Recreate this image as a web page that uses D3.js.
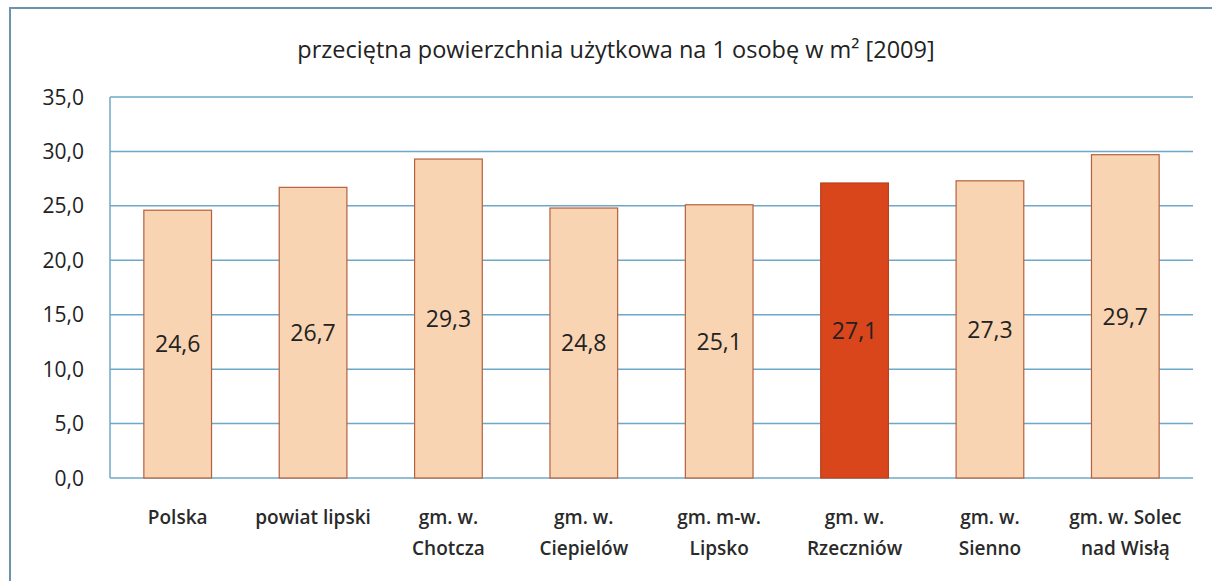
<!DOCTYPE html>
<html>
<head>
<meta charset="utf-8">
<script src="https://cdn.jsdelivr.net/npm/d3@7"></script>
<style>
  body { margin: 0; background: #fff; }
  svg { display: block; font-family: "Open Sans", sans-serif; }
</style>
</head>
<body>
<svg width="1212" height="581"></svg>
<script>
const categories = [
    ["Polska"],
    ["powiat lipski"],
    ["gm. w.", "Chotcza"],
    ["gm. w.", "Ciepielów"],
    ["gm. m-w.", "Lipsko"],
    ["gm. w.", "Rzeczniów"],
    ["gm. w.", "Sienno"],
    ["gm. w. Solec", "nad Wisłą"]
];
const values = [24.6, 26.7, 29.3, 24.8, 25.1, 27.1, 27.3, 29.7];
const highlighted = [false, false, false, false, false, true, false, false];
const yTicks = [0, 5, 10, 15, 20, 25, 30, 35];
const title = "przeciętna powierzchnia użytkowa na 1 osobę w m² [2009]";

const svg = d3.select("svg");
const margin = { left: 110, right: 19, top: 97, bottom: 103 };
const width = 1212, height = 581;
const fmt = v => d3.format(".1f")(v).replace(".", ",");

// outer frame
svg.append("rect")
    .attr("x", 10).attr("y", 8)
    .attr("width", 1240).attr("height", 620)
    .attr("fill", "none")
    .attr("stroke", "#6b93ad")
    .attr("stroke-width", 2);

const x = d3.scaleBand()
    .domain(d3.range(categories.length))
    .range([margin.left, width - margin.right])
    .paddingInner(0.5)
    .paddingOuter(0.25);

const y = d3.scaleLinear()
    .domain([0, 35])
    .range([height - margin.bottom, margin.top]);

// gridlines
svg.append("g")
    .selectAll("line")
    .data(yTicks)
    .enter()
    .append("line")
    .attr("x1", margin.left)
    .attr("x2", width - margin.right)
    .attr("y1", d => y(d))
    .attr("y2", d => y(d))
    .attr("stroke", "#6ea8c8")
    .attr("stroke-width", 1.5);

svg.append("line")
    .attr("x1", margin.left).attr("x2", margin.left)
    .attr("y1", y(35)).attr("y2", y(0))
    .attr("stroke", "#6ea8c8")
    .attr("stroke-width", 1.5);

// y tick labels
svg.append("g")
    .selectAll("text")
    .data(yTicks)
    .enter()
    .append("text")
    .attr("x", 84)
    .attr("y", d => y(d))
    .attr("dy", "0.36em")
    .attr("text-anchor", "end")
    .attr("font-size", 21)
    .attr("fill", "#222")
    .text(d => fmt(d));

// bars
svg.append("g")
    .selectAll("rect")
    .data(values)
    .enter()
    .append("rect")
    .attr("x", (d, i) => x(i))
    .attr("y", d => y(d))
    .attr("width", x.bandwidth())
    .attr("height", d => y(0) - y(d))
    .attr("fill", (d, i) => highlighted[i] ? "#d9461c" : "#f9d4b2")
    .attr("stroke", (d, i) => highlighted[i] ? "#b8401c" : "#b5603c")
    .attr("stroke-width", 1.2);

// value labels
svg.append("g")
    .selectAll("text")
    .data(values)
    .enter()
    .append("text")
    .attr("x", (d, i) => x(i) + x.bandwidth() / 2)
    .attr("y", d => (y(d) + y(0)) / 2)
    .attr("dy", "0.36em")
    .attr("text-anchor", "middle")
    .attr("font-size", 23)
    .attr("fill", "#222")
    .text(d => fmt(d));

// category labels
const cat = svg.append("g")
    .selectAll("text")
    .data(categories)
    .enter()
    .append("text")
    .attr("text-anchor", "middle")
    .attr("font-size", 19)
    .attr("font-weight", 600)
    .attr("fill", "#2a2a2a");

cat.selectAll("tspan")
    .data((d, i) => d.map(s => ({ s, i })))
    .enter()
    .append("tspan")
    .attr("x", d => x(d.i) + x.bandwidth() / 2)
    .attr("y", (d, j) => 524 + j * 31)
    .text(d => d.s);

// title
svg.append("text")
    .attr("x", 616)
    .attr("y", 58)
    .attr("text-anchor", "middle")
    .attr("font-size", 23.5)
    .attr("fill", "#222")
    .text(title);
</script>
</body>
</html>
